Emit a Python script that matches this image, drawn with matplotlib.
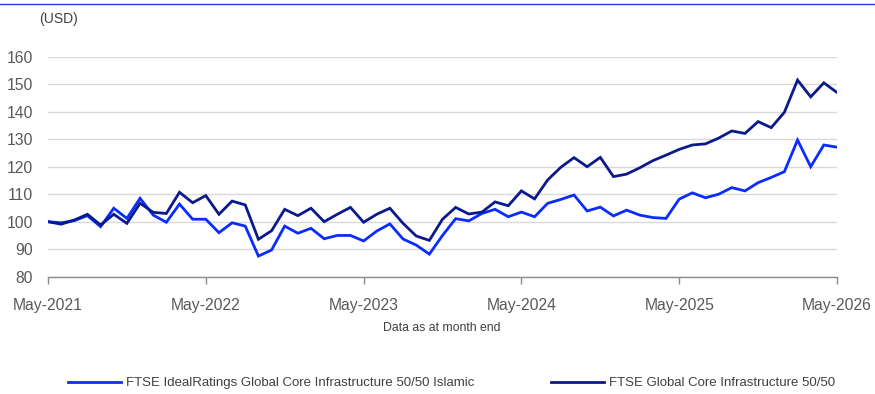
import matplotlib.pyplot as plt
from matplotlib.lines import Line2D

# month-end index levels, May-2021 .. May-2026 (61 points, rebased to 100)
islamic = [100, 99.6, 100.4, 102.2, 98.2, 104.9, 101.2, 108.5, 102.4, 99.8,
           106.4, 100.9, 100.9, 96.0, 99.6, 98.4, 87.5, 89.7, 98.4, 95.8,
           97.6, 93.8, 95.0, 95.0, 93.0, 96.6, 99.2, 93.7, 91.5, 88.2,
           95.0, 101.1, 100.3, 103.0, 104.5, 101.8, 103.5, 101.8, 106.7, 108.1,
           109.7, 103.9, 105.3, 102.1, 104.2, 102.4, 101.5, 101.2, 108.2, 110.5,
           108.7, 110.0, 112.4, 111.2, 114.2, 116.1, 118.2, 129.7, 120.0, 127.9,
           127.1]
core = [100, 99.1, 100.6, 102.7, 98.8, 102.7, 99.4, 106.7, 103.4, 103.0,
        110.7, 106.9, 109.5, 102.7, 107.5, 106.1, 93.6, 96.7, 104.5, 102.2,
        104.9, 100.0, 102.7, 105.2, 99.8, 102.7, 104.9, 99.4, 94.8, 93.2,
        100.9, 105.2, 102.8, 103.5, 107.2, 105.8, 111.2, 108.3, 115.2, 119.8,
        123.3, 120.0, 123.4, 116.4, 117.3, 119.6, 122.2, 124.2, 126.3, 127.9,
        128.3, 130.4, 133.0, 132.1, 136.4, 134.2, 139.8, 151.5, 145.4, 150.5,
        147.0]
months = list(range(len(core)))
tick_pos = [0, 12, 24, 36, 48, 60]
tick_labels = ['May-2021', 'May-2022', 'May-2023', 'May-2024', 'May-2025', 'May-2026']
y_ticks = [80, 90, 100, 110, 120, 130, 140, 150, 160]
names = ['FTSE IdealRatings Global Core Infrastructure 50/50 Islamic',
         'FTSE Global Core Infrastructure 50/50']

plt.rcParams['font.family'] = ['Liberation Sans', 'DejaVu Sans']

light_blue = '#0a2cff'
navy = '#0b1a8a'
grey_txt = '#595959'

fig = plt.figure(figsize=(8.75, 3.94), dpi=100)
ax = fig.add_axes([48 / 875, 1 - 276.7 / 394, (837 - 48) / 875, 220 / 394])

ax.plot(months, islamic, color=light_blue, lw=2.0, solid_joinstyle='miter')
ax.plot(months, core, color=navy, lw=2.0, solid_joinstyle='miter')

ax.set_xlim(0, 60)
ax.set_ylim(80, 160)
ax.set_yticks(y_ticks)
ax.set_xticks(tick_pos)
ax.set_xticklabels(tick_labels)
ax.tick_params(axis='y', length=0, pad=10.8, labelsize=11.3, labelcolor=grey_txt)
ax.tick_params(axis='x', length=5, width=1, color='#8c8c8c', pad=10,
               labelsize=11.3, labelcolor=grey_txt)
ax.grid(axis='y', color='#d9d9d9', lw=1)
ax.set_axisbelow(True)
for side in ['left', 'right', 'top']:
    ax.spines[side].set_visible(False)
ax.spines['bottom'].set_color('#8c8c8c')
ax.spines['bottom'].set_linewidth(1)

fig.text(442 / 875, 1 - 328 / 394, 'Data as at month end', ha='center', va='center',
         fontsize=8.8, color='#404040')
fig.text(39 / 875, 1 - 19 / 394, '(USD)', ha='left', va='center',
         fontsize=10, color='#404040')

# thin rule across the top
fig.add_artist(Line2D([0, 1], [1 - 4 / 394, 1 - 4 / 394], color='#1a3cff', lw=1))

handles = [Line2D([], [], color=light_blue, lw=2.0),
           Line2D([], [], color=navy, lw=2.0)]
fig.legend(handles, names, loc='center', bbox_to_anchor=(452 / 875, 1 - 383 / 394),
           ncol=2, frameon=False, fontsize=9.5, columnspacing=5.8, handlelength=4,
           handletextpad=0.4, labelcolor='#404040', borderpad=0, borderaxespad=0)

fig.savefig('out.png', dpi=100)
